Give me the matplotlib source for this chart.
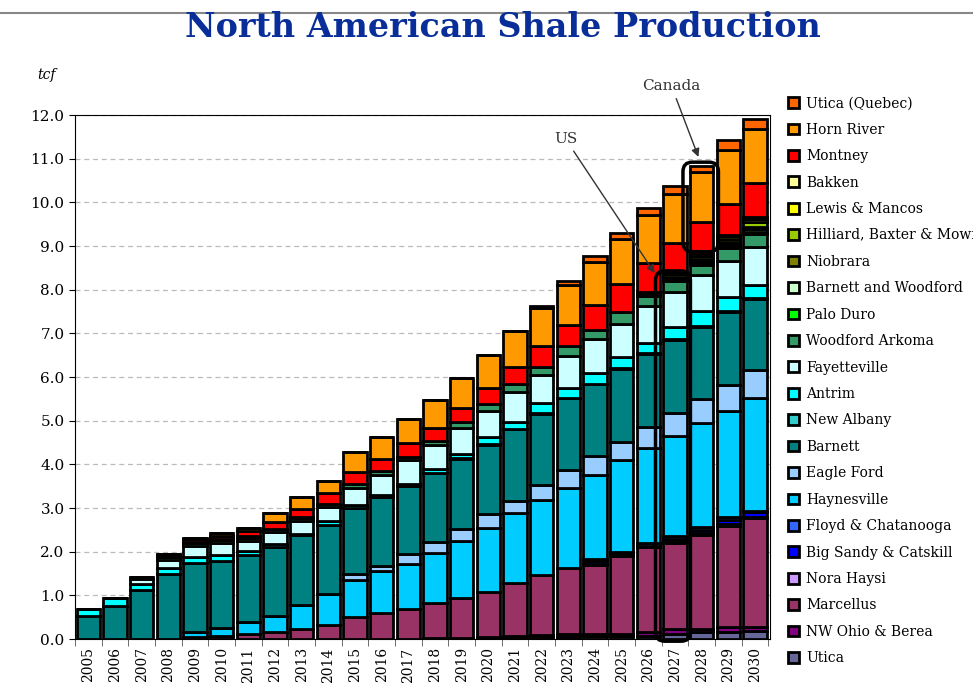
import numpy as np
import matplotlib.pyplot as plt
from matplotlib.patches import FancyBboxPatch

years = list(range(2005, 2031))

# tcf by play, bottom of the stack first
utica = [0]*13 + [0.02, 0.03, 0.03, 0.04, 0.05, 0.05, 0.07, 0.07, 0.07, 0.12, 0.15, 0.15, 0.19]
nw_ohio_berea = [0]*15 + [0.02, 0.04, 0.05, 0.06, 0.05, 0.05, 0.10, 0.10, 0.09, 0.13, 0.09]
marcellus = [0, 0, 0, 0, 0.05, 0.07, 0.11, 0.16, 0.24, 0.31, 0.50, 0.59, 0.68, 0.80, 0.92,
             1.03, 1.20, 1.37, 1.52, 1.58, 1.78, 1.93, 1.99, 2.14, 2.31, 2.48]
nora_haysi = [0]*19 + [0.02, 0.02, 0.01, 0.03, 0.05, 0.05, 0.04]
big_sandy = [0]*19 + [0.06, 0.04, 0.03, 0.06, 0.07, 0.08, 0.10]
floyd = [0]*19 + [0.06, 0.04, 0.05, 0.06, 0.07, 0.07, 0.04]
haynesville = [0, 0, 0, 0, 0.10, 0.18, 0.27, 0.36, 0.54, 0.71, 0.85, 0.96, 1.04, 1.16, 1.29,
               1.46, 1.60, 1.71, 1.83, 1.91, 2.09, 2.18, 2.29, 2.38, 2.44, 2.59]
eagle_ford = [0]*10 + [0.13, 0.13, 0.22, 0.24, 0.28, 0.33, 0.29, 0.35, 0.41, 0.44, 0.42,
                       0.49, 0.52, 0.54, 0.59, 0.62]
barnett = [0.52, 0.76, 1.13, 1.48, 1.59, 1.54, 1.55, 1.59, 1.60, 1.60, 1.53, 1.57, 1.56, 1.59,
           1.60, 1.58, 1.63, 1.63, 1.64, 1.64, 1.67, 1.66, 1.67, 1.66, 1.67, 1.63]
new_albany = [0]*14 + [0.02]*12
antrim = [0.16, 0.17, 0.12, 0.14, 0.13, 0.13, 0.08, 0.06, 0.03, 0.08, 0.06, 0.04, 0.06, 0.08,
          0.09, 0.16, 0.16, 0.22, 0.21, 0.25, 0.25, 0.24, 0.29, 0.34, 0.33, 0.31]
fayetteville = [0, 0, 0.12, 0.20, 0.25, 0.27, 0.24, 0.28, 0.30, 0.33, 0.39, 0.47, 0.54, 0.56,
                0.61, 0.60, 0.68, 0.65, 0.75, 0.77, 0.77, 0.84, 0.80, 0.83, 0.82, 0.87]
woodford_arkoma = [0, 0, 0.06, 0.05, 0.08, 0.08, 0.07, 0.07, 0.06, 0.06, 0.08, 0.08, 0.07, 0.08,
                   0.14, 0.15, 0.18, 0.18, 0.21, 0.20, 0.27, 0.24, 0.25, 0.23, 0.30, 0.29]
palo_duro = [0]*21 + [0.03, 0.04, 0.04, 0.05, 0.06]
barnett_woodford = [0, 0, 0, 0.02, 0.03, 0.03, 0.03, 0, 0.03] + [0]*13 + [0.03, 0.04, 0.04, 0.05]
niobrara = [0]*21 + [0.02, 0.03, 0.05, 0.04, 0.06]
hilliard = [0]*21 + [0.03, 0.06, 0.07, 0.08, 0.10]
lewis_mancos = [0]*22 + [0.03, 0.03, 0.05, 0.07]
bakken = [0]*22 + [0.02, 0.02, 0.04, 0.06]
montney = [0, 0, 0, 0.03, 0.05, 0.06, 0.13, 0.17, 0.17, 0.25, 0.29, 0.28, 0.31, 0.31, 0.32,
           0.36, 0.38, 0.49, 0.50, 0.59, 0.64, 0.68, 0.65, 0.72, 0.71, 0.77]
horn_river = [0, 0, 0, 0.03, 0.04, 0.06, 0.06, 0.19, 0.29, 0.29, 0.46, 0.51, 0.56, 0.63, 0.67,
              0.76, 0.84, 0.86, 0.91, 0.97, 1.02, 1.09, 1.12, 1.16, 1.23, 1.24]
utica_quebec = [0]*17 + [0.05, 0.10, 0.13, 0.14, 0.15, 0.19, 0.13, 0.23, 0.22]

series = [
    ("Utica", utica, "#666699"),
    ("NW Ohio & Berea", nw_ohio_berea, "#800080"),
    ("Marcellus", marcellus, "#993366"),
    ("Nora Haysi", nora_haysi, "#CC99FF"),
    ("Big Sandy & Catskill", big_sandy, "#0000FF"),
    ("Floyd & Chatanooga", floyd, "#3366FF"),
    ("Haynesville", haynesville, "#00CCFF"),
    ("Eagle Ford", eagle_ford, "#99CCFF"),
    ("Barnett", barnett, "#008080"),
    ("New Albany", new_albany, "#33CCCC"),
    ("Antrim", antrim, "#00FFFF"),
    ("Fayetteville", fayetteville, "#CCFFFF"),
    ("Woodford Arkoma", woodford_arkoma, "#339966"),
    ("Palo Duro", palo_duro, "#00FF00"),
    ("Barnett and Woodford", barnett_woodford, "#CCFFCC"),
    ("Niobrara", niobrara, "#808000"),
    ("Hilliard, Baxter & Mowry", hilliard, "#99CC00"),
    ("Lewis & Mancos", lewis_mancos, "#FFFF00"),
    ("Bakken", bakken, "#FFFF99"),
    ("Montney", montney, "#FF0000"),
    ("Horn River", horn_river, "#FF9900"),
    ("Utica (Quebec)", utica_quebec, "#FF6600"),
]

serif = "DejaVu Serif"
plt.rcParams['font.family'] = serif

fig = plt.figure(figsize=(9.73, 6.83), dpi=100)
ax = fig.add_axes([0.077, 0.0644, 0.714, 0.7672])

x = np.arange(len(years))
bottom = np.zeros(len(years))
handles = []
names = []
for name, vals, color in series:
    vals = np.array(vals, dtype=float)
    b = ax.bar(x, vals, 0.88, bottom=bottom, color=color, edgecolor='black',
               linewidth=2.0, zorder=3)
    bottom += vals
    handles.append(b)
    names.append(name)

ax.set_xlim(-0.5, 25.55)
ax.set_ylim(0, 12)
ax.set_yticks(np.arange(0, 13, 1))
ax.set_yticklabels(['%.1f' % v for v in range(13)], fontsize=11)
ax.yaxis.grid(True, linestyle=(0, (4, 3)), color='#BBBBBB', linewidth=0.9)
ax.set_axisbelow(True)

ax.set_xticks(x)
ax.set_xticklabels([str(y) for y in years], rotation=90, fontsize=10)
ax.tick_params(axis='x', which='major', length=0, pad=6)
ax.set_xticks(np.arange(-0.5, 26, 1), minor=True)
ax.tick_params(axis='x', which='minor', length=5, color='#555555')
ax.tick_params(axis='y', length=4)
for s in ax.spines.values():
    s.set_linewidth(0.8)

# US / Canada callouts
ax.add_patch(FancyBboxPatch((21.27, -0.05), 1.31, 8.48,
                            boxstyle='round,pad=0,rounding_size=0.35', mutation_aspect=0.61,
                            fill=False, ec='black', lw=2.5, zorder=5, clip_on=False))
ax.add_patch(FancyBboxPatch((22.3, 8.87), 1.33, 2.05,
                            boxstyle='round,pad=0,rounding_size=0.35', mutation_aspect=0.61,
                            fill=False, ec='black', lw=2.5, zorder=5, clip_on=False))
arrow = dict(arrowstyle='-|>', color='#333333', lw=1.0, mutation_scale=12, shrinkA=2, shrinkB=0)
ax.annotate('US', xy=(21.24, 8.38), xytext=(17.9, 11.45), ha='center', va='center',
            fontsize=11, color='#333333', arrowprops=arrow, annotation_clip=False, zorder=6)
ax.annotate('Canada', xy=(22.88, 11.04), xytext=(21.87, 12.66), ha='center', va='center',
            fontsize=11, color='#333333', arrowprops=arrow, annotation_clip=False, zorder=6)

fig.text(0.517, 0.96, 'North American Shale Production', ha='center', va='center',
         fontsize=24, fontweight='bold', color='#0A2E99')
fig.text(0.048, 0.89, 'tcf', ha='center', va='center', fontsize=10, style='italic')
fig.add_artist(plt.Line2D([0, 1], [0.981, 0.981], color='#888888', lw=1.5))

fig.legend(handles[::-1], names[::-1], loc='upper left', bbox_to_anchor=(0.81, 0.859),
           frameon=False, fontsize=10, handlelength=0.8, handleheight=0.8,
           handletextpad=0.5, labelspacing=0.895, borderaxespad=0, borderpad=0)

fig.savefig('out.png', dpi=100)
